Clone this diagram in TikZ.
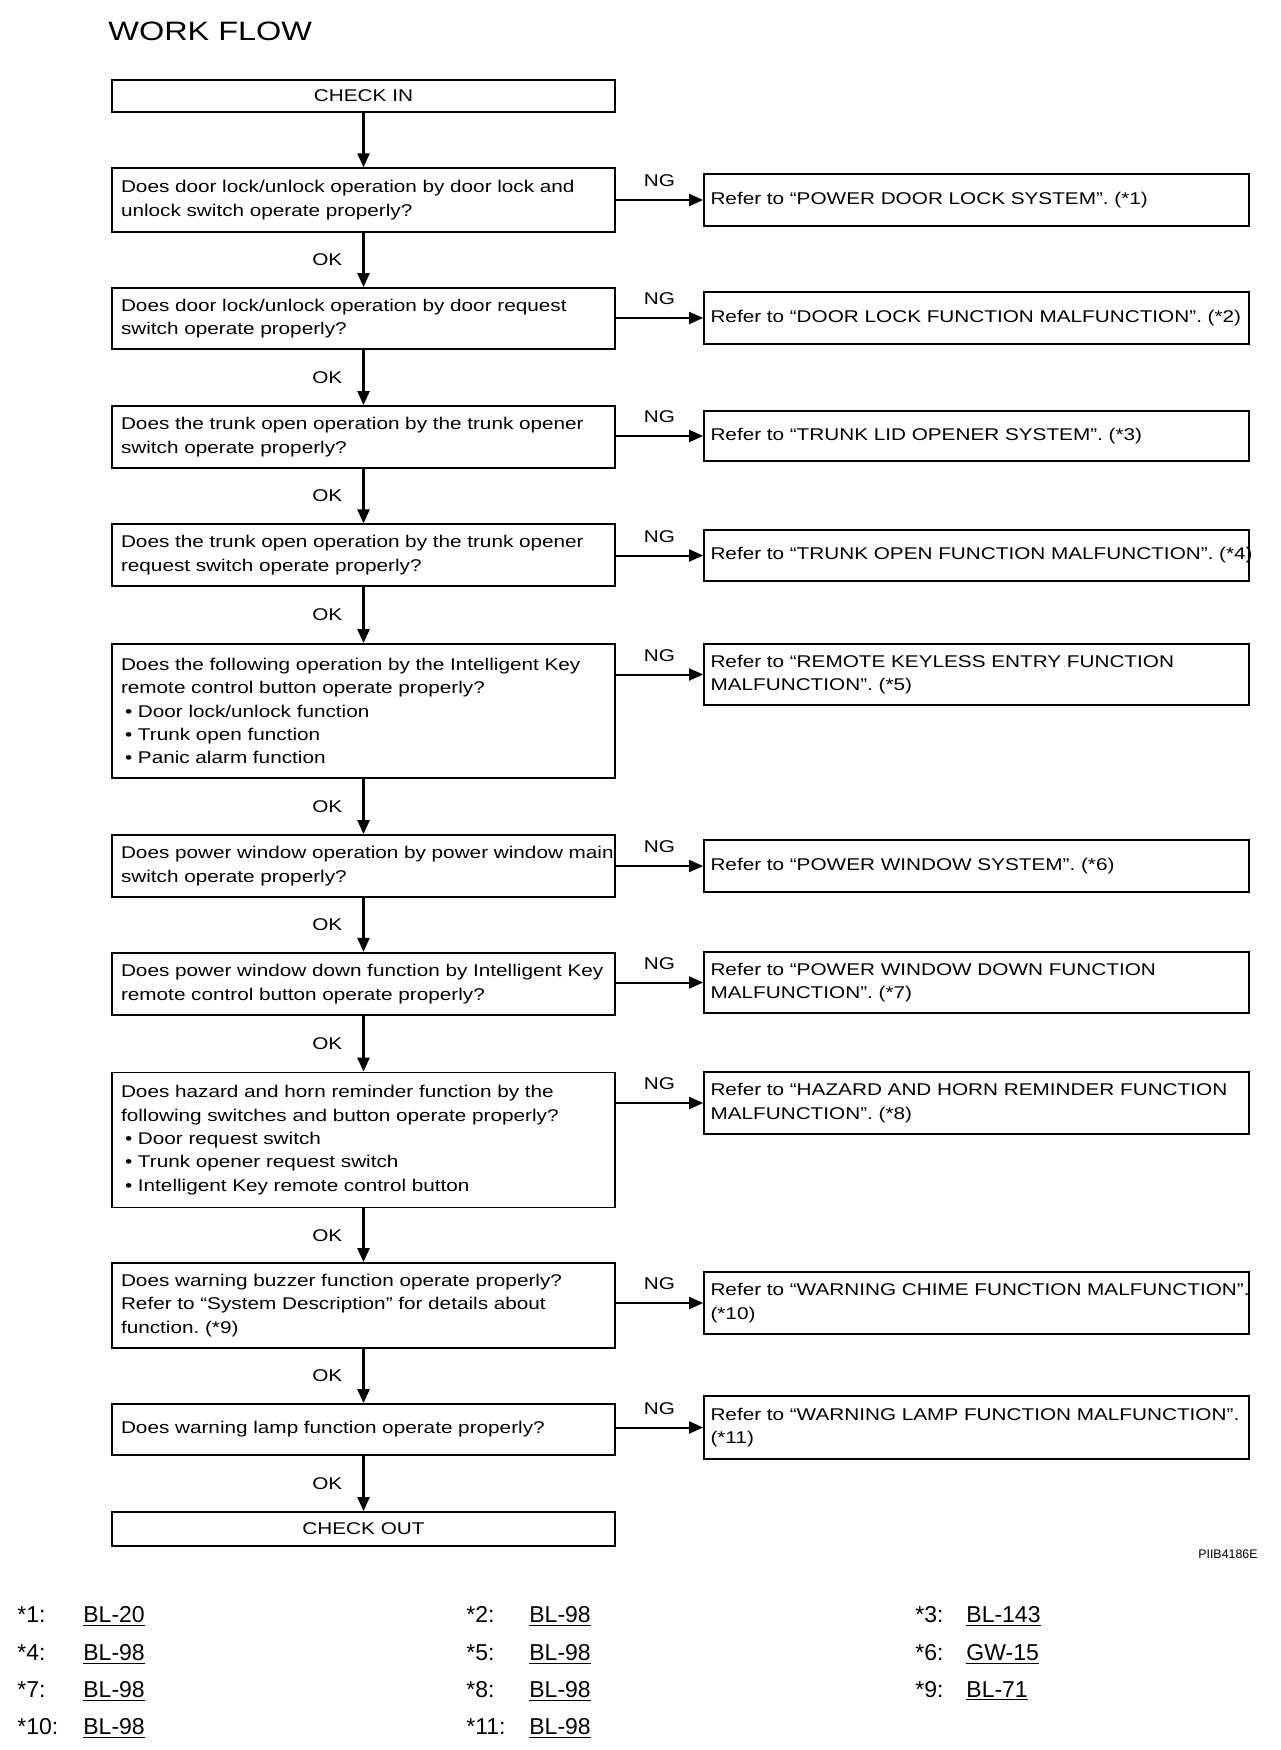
\documentclass[tikz,border=0pt]{standalone}
\usepackage{fontspec}
\setmainfont{Liberation Sans}
\newfontfamily\bodyfont[FakeStretch=1.22]{Liberation Sans}
\newfontfamily\plainfont{Liberation Sans}
\usetikzlibrary{arrows.meta}
\frenchspacing
\begin{document}
\begin{tikzpicture}[x=0.5pt,y=-0.5pt,
  bf/.style={font=\bodyfont\fontsize{8.5}{11.7}\selectfont\frenchspacing},
  qbox/.style={draw, line width=0.9pt, minimum width=251.5pt, text width=242.5pt,
    inner xsep=4.5pt, inner ysep=0pt, align=left, bf},
  rbox/.style={draw, line width=0.9pt, minimum width=272.5pt, text width=266pt,
    inner xsep=3.25pt, inner ysep=0pt, align=left, bf},
  cbox/.style={draw, line width=0.9pt, minimum width=251.5pt, inner sep=0pt, align=center, bf},
  arr/.style={line width=1.2pt, -{Triangle[length=7pt,width=6pt]}},
  ngarr/.style={line width=1pt, -{Triangle[length=7pt,width=6pt]}},
  oklab/.style={left=10pt, inner sep=0pt, bf},
  nglab/.style={above=6pt, inner sep=0pt, bf},
  fn/.style={anchor=base west, inner sep=0pt, font=\plainfont\fontsize{11.5}{13}\selectfont}
]
\useasboundingbox (0,0) rectangle (1280,1750);

\node[anchor=base west, inner sep=0pt, font=\bodyfont\fontsize{13.3}{15}\selectfont] (title) at (108,41) {WORK FLOW};

% left column
\node[cbox, minimum height=16pt] (ci) at (363.5,96) {CHECK IN};
\node[qbox, minimum height=31.75pt] (q1) at (363.5,200) {Does door lock/unlock operation by door lock and\\unlock switch operate properly?};
\node[qbox, minimum height=30.5pt] (q2) at (363.5,318.5) {Does door lock/unlock operation by door request\\switch operate properly?};
\node[qbox, minimum height=31pt] (q3) at (363.5,437) {Does the trunk open operation by the trunk opener\\switch operate properly?};
\node[qbox, minimum height=30.75pt] (q4) at (363.5,555) {Does the trunk open operation by the trunk opener\\request switch operate properly?};
\node[qbox, minimum height=67pt] (q5) at (363.5,711) {Does the following operation by the Intelligent Key\\remote control button operate properly?\\\hspace*{2pt}• Door lock/unlock function\\\hspace*{2pt}• Trunk open function\\\hspace*{2pt}• Panic alarm function};
\node[qbox, minimum height=31pt] (q6) at (363.5,866) {\mbox{Does power window operation by power window main}\\switch operate properly?};
\node[qbox, minimum height=31.25pt] (q7) at (363.5,984) {\mbox{Does power window down function by Intelligent Key}\\remote control button operate properly?};
\node[qbox, minimum height=67.5pt] (q8) at (363.5,1140) {Does hazard and horn reminder function by the\\following switches and button operate properly?\\\hspace*{2pt}• Door request switch\\\hspace*{2pt}• Trunk opener request switch\\\hspace*{2pt}• Intelligent Key remote control button};
\node[qbox, minimum height=42.5pt] (q9) at (363.5,1305.5) {Does warning buzzer function operate properly?\\Refer to “System Description” for details about\\function. (*9)};
\node[qbox, minimum height=25.5pt] (q10) at (363.5,1429.5) {Does warning lamp function operate properly?};
\node[cbox, minimum height=17pt] (co) at (363.5,1529) {CHECK OUT};

% right column
\node[rbox, minimum height=26.25pt] (r1) at (976.5,200) {Refer to “POWER DOOR LOCK SYSTEM”. (*1)};
\node[rbox, minimum height=26pt] (r2) at (976.5,318) {\mbox{Refer to “DOOR LOCK FUNCTION MALFUNCTION”. (*2)}};
\node[rbox, minimum height=25pt] (r3) at (976.5,436) {Refer to “TRUNK LID OPENER SYSTEM”. (*3)};
\node[rbox, minimum height=25.5pt] (r4) at (976.5,555.5) {\mbox{Refer to “TRUNK OPEN FUNCTION MALFUNCTION”. (*4)}};
\node[rbox, minimum height=30.5pt] (r5) at (976.5,674.5) {Refer to “REMOTE KEYLESS ENTRY FUNCTION\\MALFUNCTION”. (*5)};
\node[rbox, minimum height=26pt] (r6) at (976.5,866) {Refer to “POWER WINDOW SYSTEM”. (*6)};
\node[rbox, minimum height=30.5pt] (r7) at (976.5,982.5) {Refer to “POWER WINDOW DOWN FUNCTION\\MALFUNCTION”. (*7)};
\node[rbox, minimum height=30.75pt] (r8) at (976.5,1103) {\mbox{Refer to “HAZARD AND HORN REMINDER FUNCTION}\\MALFUNCTION”. (*8)};
\node[rbox, minimum height=31pt] (r9) at (976.5,1303) {\mbox{Refer to “WARNING CHIME FUNCTION MALFUNCTION”.}\\(*10)};
\node[rbox, minimum height=31.5pt] (r10) at (976.5,1427.5) {\mbox{Refer to “WARNING LAMP FUNCTION MALFUNCTION”.}\\(*11)};

% vertical connectors
\draw[arr] (ci.south) -- (q1.north);
\draw[arr] (q1.south) -- node[oklab]{OK} (q2.north);
\draw[arr] (q2.south) -- node[oklab]{OK} (q3.north);
\draw[arr] (q3.south) -- node[oklab]{OK} (q4.north);
\draw[arr] (q4.south) -- node[oklab]{OK} (q5.north);
\draw[arr] (q5.south) -- node[oklab]{OK} (q6.north);
\draw[arr] (q6.south) -- node[oklab]{OK} (q7.north);
\draw[arr] (q7.south) -- node[oklab]{OK} (q8.north);
\draw[arr] (q8.south) -- node[oklab]{OK} (q9.north);
\draw[arr] (q9.south) -- node[oklab]{OK} (q10.north);
\draw[arr] (q10.south) -- node[oklab]{OK} (co.north);

% NG connectors
\foreach \i in {1,...,10}{
  \draw[ngarr] (r\i.west -| q\i.east) -- node[nglab]{NG} (r\i.west);
}

% code
\node[anchor=base east, inner sep=0pt, font=\plainfont\fontsize{6.2}{7}\selectfont] (code) at (1258,1558) {PIIB4186E};

% references
\node[fn] (n1) at (17,1622.5) {*1:};  \node[fn] (l1) at (83,1622.5) {\underline{BL-20}};
\node[fn] (n2) at (466,1622.5) {*2:}; \node[fn] (l2) at (529,1622.5) {\underline{BL-98}};
\node[fn] (n3) at (915,1622.5) {*3:}; \node[fn] (l3) at (966,1622.5) {\underline{BL-143}};
\node[fn] (n4) at (17,1660) {*4:};    \node[fn] (l4) at (83,1660) {\underline{BL-98}};
\node[fn] (n5) at (466,1660) {*5:};   \node[fn] (l5) at (529,1660) {\underline{BL-98}};
\node[fn] (n6) at (915,1660) {*6:};   \node[fn] (l6) at (966,1660) {\underline{GW-15}};
\node[fn] (n7) at (17,1697) {*7:};    \node[fn] (l7) at (83,1697) {\underline{BL-98}};
\node[fn] (n8) at (466,1697) {*8:};   \node[fn] (l8) at (529,1697) {\underline{BL-98}};
\node[fn] (n9) at (915,1697) {*9:};   \node[fn] (l9) at (966,1697) {\underline{BL-71}};
\node[fn] (n10) at (17,1734.5) {*10:}; \node[fn] (l10) at (83,1734.5) {\underline{BL-98}};
\node[fn] (n11) at (466,1734.5) {*11:}; \node[fn] (l11) at (529,1734.5) {\underline{BL-98}};
\end{tikzpicture}
\end{document}
